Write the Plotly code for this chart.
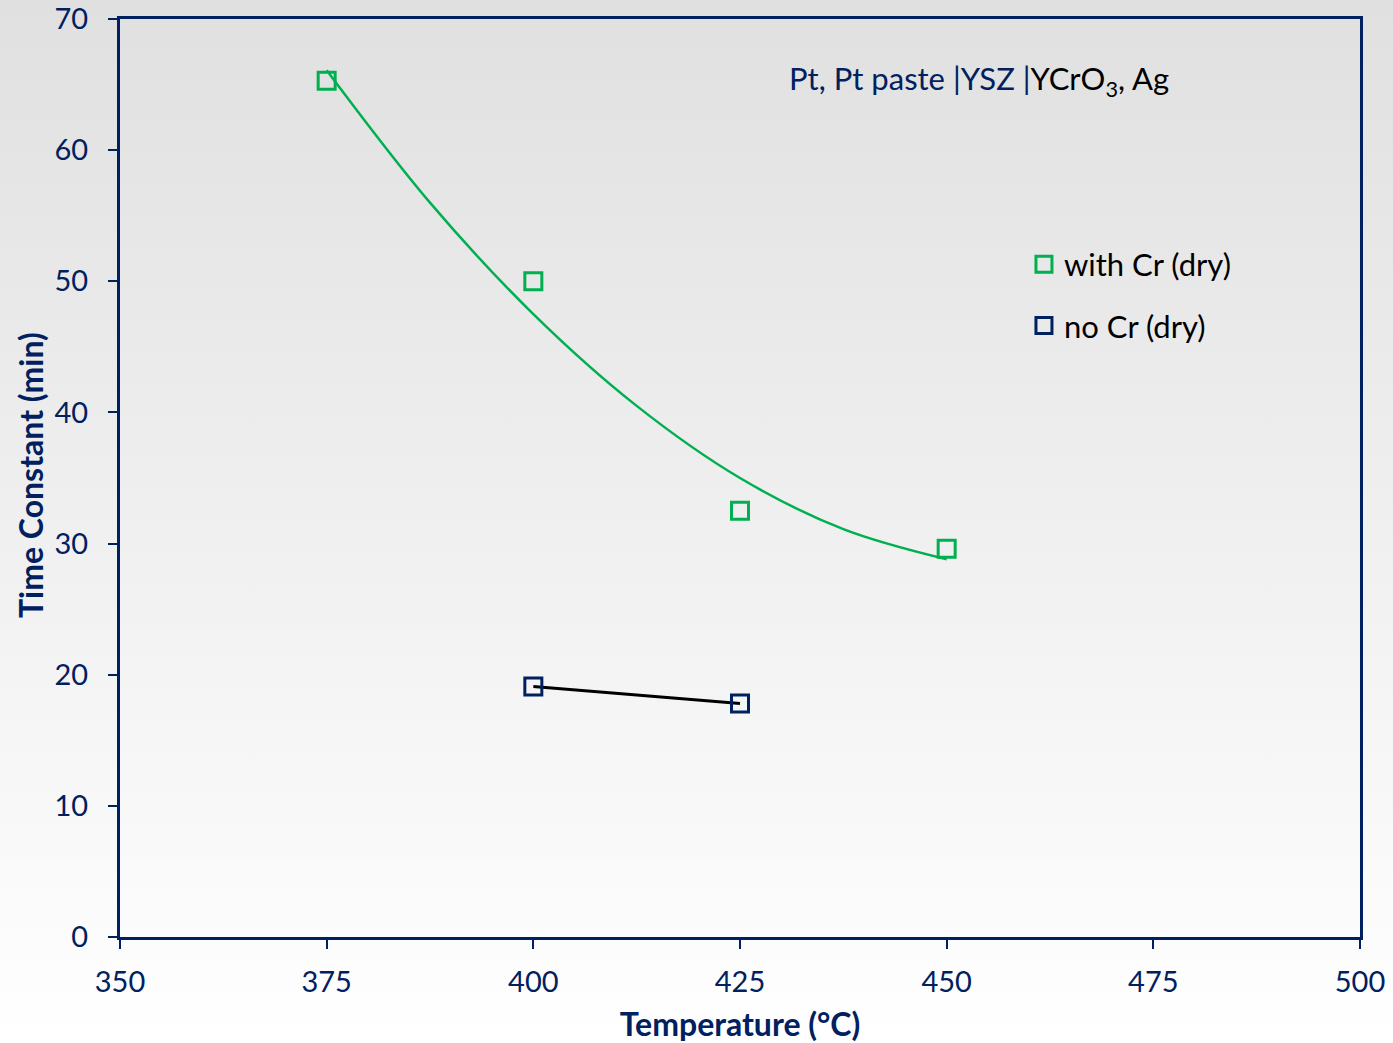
import plotly.graph_objects as go

# Data
temp_cr = [375, 400, 425, 450]
tau_cr = [65.3, 50.0, 32.5, 29.6]
temp_nocr = [400, 425]
tau_nocr = [19.1, 17.8]
# trend curve (with Cr)
fit_temp = [375, 387.5, 400, 412.5, 425, 437.5, 450]
fit_tau = [66.1, 56.0, 47.5, 40.5, 35.0, 31.1, 28.8]

x_ticks = [350, 375, 400, 425, 450, 475, 500]
y_ticks = [0, 10, 20, 30, 40, 50, 60, 70]

NAVY = "#002060"
GREEN = "#00B050"
FONT = "Lato"

fig = go.Figure()
fig.add_trace(go.Scatter(x=fit_temp, y=fit_tau, mode="lines", line=dict(color=GREEN, width=2.5, shape="spline"),
                         showlegend=False, hoverinfo="skip"))
fig.add_trace(go.Scatter(x=temp_nocr, y=tau_nocr, mode="lines", line=dict(color="black", width=3),
                         showlegend=False, hoverinfo="skip"))
fig.add_trace(go.Scatter(x=temp_cr, y=tau_cr, mode="markers", name="with Cr (dry)", legendgroup="a",
                         marker=dict(symbol="square-open", size=17, color=GREEN, line=dict(width=3, color=GREEN))))
fig.add_trace(go.Scatter(x=temp_nocr, y=tau_nocr, mode="markers", name="no Cr (dry)", legendgroup="b",
                         marker=dict(symbol="square-open", size=17, color=NAVY, line=dict(width=3, color=NAVY))))

grad_svg = ("data:image/svg+xml;utf8,<svg xmlns='http://www.w3.org/2000/svg' width='100' height='100' preserveAspectRatio='none'>"
            "<defs><linearGradient id='g' x1='0' y1='0' x2='0' y2='1'>"
            "<stop offset='0' stop-color='%23e0e0e0'/><stop offset='1' stop-color='%23ffffff'/></linearGradient></defs>"
            "<rect width='100' height='100' fill='url(%23g)'/></svg>")

W, H = 1393, 1043
L, R, T, B = 120, 33, 19, 106
pw, ph = W - L - R, H - T - B

fig.add_layout_image(dict(source=grad_svg, xref="paper", yref="paper",
                          x=-L / pw, y=1 + T / ph, sizex=W / pw, sizey=H / ph,
                          sizing="stretch", layer="below", xanchor="left", yanchor="top"))

fig.add_annotation(xref="paper", yref="paper", x=0.538, y=0.933, xanchor="left", yanchor="middle",
                   showarrow=False,
                   text=f"<span style='color:{NAVY}'>Pt, Pt paste |YSZ |</span><span style='color:black'>YCrO<sub>3</sub>, Ag</span>",
                   font=dict(family=FONT, size=31))

# y-axis title as an annotation for exact placement
fig.add_annotation(xref="paper", yref="paper", x=(30 - L) / pw, y=(937 - 475) / ph,
                   xanchor="center", yanchor="middle", showarrow=False, textangle=-90,
                   text="<b>Time Constant (min)</b>", font=dict(size=32, color=NAVY, family=FONT))

fig.update_layout(
    width=W, height=H,
    margin=dict(l=L, r=R, t=T, b=B, autoexpand=False),
    paper_bgcolor="rgba(0,0,0,0)", plot_bgcolor="rgba(0,0,0,0)",
    font=dict(family=FONT, color=NAVY, size=31),
    legend=dict(x=0.729, y=0.762, xanchor="left", yanchor="top", bgcolor="rgba(0,0,0,0)",
                font=dict(family=FONT, size=31, color="black"), tracegroupgap=18, itemwidth=30),
    xaxis=dict(range=[350, 500], tickvals=x_ticks, showgrid=False, zeroline=False, automargin=False,
               showline=True, linecolor=NAVY, linewidth=3, mirror=True,
               ticks="outside", ticklen=9, tickwidth=1.5, tickcolor=NAVY,
               tickfont=dict(size=29, color=NAVY, family=FONT), ticklabelstandoff=8,
               title=dict(text="<b>Temperature (°C)</b>", font=dict(size=32, color=NAVY, family=FONT), standoff=18)),
    yaxis=dict(range=[0, 70], tickvals=y_ticks, showgrid=False, zeroline=False, automargin=False,
               showline=True, linecolor=NAVY, linewidth=3, mirror=True,
               ticks="outside", ticklen=9, tickwidth=1.5, tickcolor=NAVY,
               tickfont=dict(size=29, color=NAVY, family=FONT), ticklabelstandoff=14),
)

fig.write_html("out.html")
